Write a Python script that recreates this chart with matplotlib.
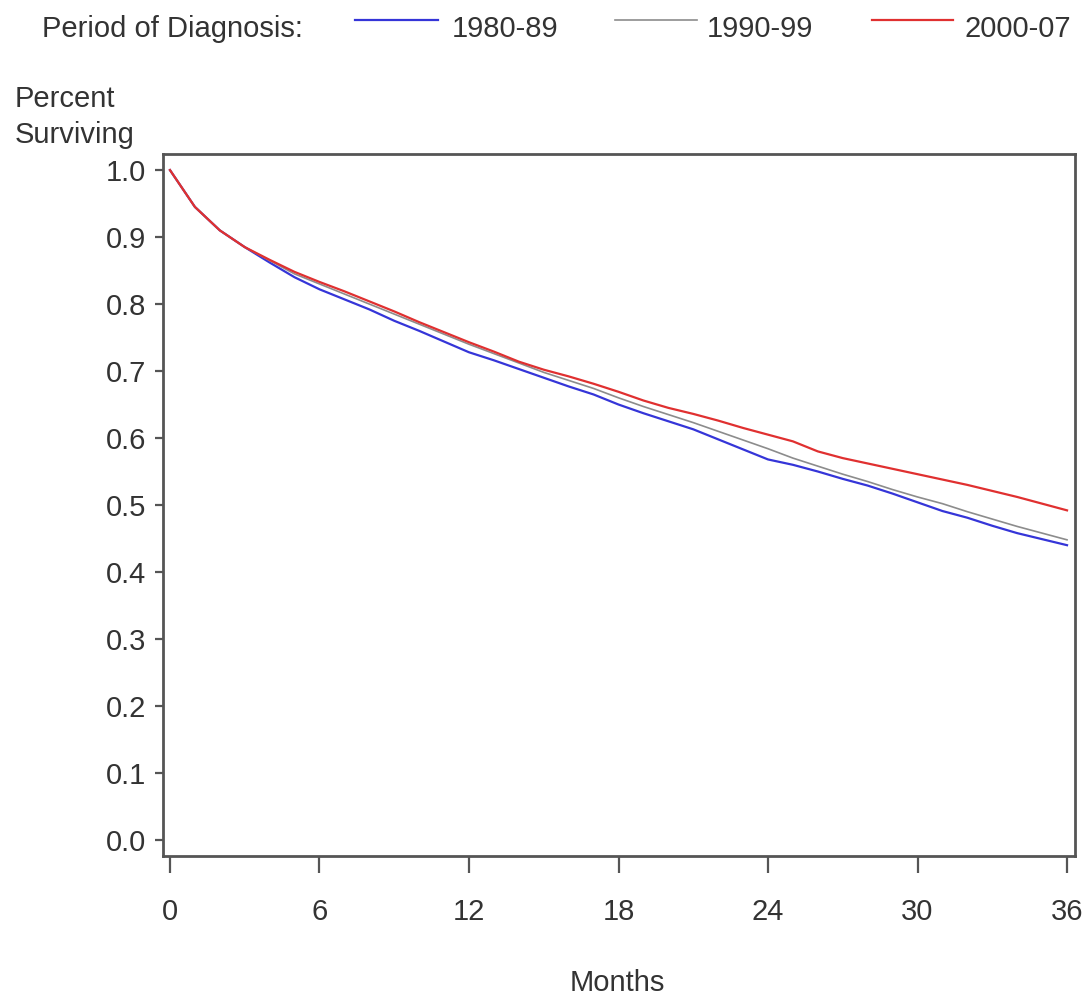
import matplotlib
matplotlib.use("Agg")
import matplotlib.pyplot as plt
from matplotlib.lines import Line2D

months = list(range(0, 37))

surv_1980_89 = [1.000, 0.945, 0.910, 0.885, 0.862, 0.840, 0.822, 0.807, 0.792, 0.775,
                0.760, 0.744, 0.728, 0.716, 0.703, 0.690, 0.677, 0.665, 0.650, 0.637,
                0.625, 0.613, 0.598, 0.583, 0.568, 0.560, 0.550, 0.539, 0.529, 0.517,
                0.504, 0.491, 0.481, 0.469, 0.458, 0.449, 0.440]
surv_1990_99 = [1.000, 0.945, 0.910, 0.885, 0.865, 0.845, 0.830, 0.815, 0.800, 0.785,
                0.770, 0.755, 0.740, 0.726, 0.712, 0.698, 0.686, 0.674, 0.660, 0.647,
                0.635, 0.623, 0.610, 0.597, 0.584, 0.570, 0.558, 0.546, 0.535, 0.523,
                0.512, 0.502, 0.490, 0.479, 0.468, 0.458, 0.448]
surv_2000_07 = [1.000, 0.945, 0.910, 0.885, 0.866, 0.848, 0.833, 0.819, 0.804, 0.789,
                0.773, 0.758, 0.743, 0.729, 0.714, 0.702, 0.692, 0.681, 0.669, 0.656,
                0.645, 0.636, 0.626, 0.615, 0.605, 0.595, 0.580, 0.570, 0.562, 0.554,
                0.546, 0.538, 0.530, 0.521, 0.512, 0.502, 0.492]

series_labels = ["1980-89", "1990-99", "2000-07"]
series_colors = ["#3535d8", "#8c8c8c", "#e03030"]
x_ticks = [0, 6, 12, 18, 24, 30, 36]
y_ticks = [0.0, 0.1, 0.2, 0.3, 0.4, 0.5, 0.6, 0.7, 0.8, 0.9, 1.0]

plt.rcParams['font.family'] = ['Liberation Sans', 'DejaVu Sans']
txt_color = "#333333"
spine_color = "#555555"
fs = 21

W, H = 1084, 997
fig = plt.figure(figsize=(W / 100, H / 100), dpi=100)
ax = fig.add_axes([163 / W, 1 - 856 / H, (1075 - 163) / W, (856 - 154) / H])

series = [surv_1980_89, surv_1990_99, surv_2000_07]
widths = [1.6, 1.2, 1.6]
for vals, col, lw in zip(series, series_colors, widths):
    ax.plot(months, vals, color=col, lw=lw)

ax.set_xlim(-0.28, 36.32)
ax.set_ylim(-0.024, 1.024)
ax.set_xticks(x_ticks)
ax.set_xticklabels([str(t) for t in x_ticks])
ax.set_yticks(y_ticks)
ax.set_yticklabels([f"{t:.1f}" for t in y_ticks])

for s in ax.spines.values():
    s.set_color(spine_color)
    s.set_linewidth(2.0)
ax.tick_params(axis='x', direction='out', length=12, width=1.6, color=spine_color,
               labelsize=fs, labelcolor=txt_color, pad=18)
ax.tick_params(axis='y', direction='out', length=6, width=1.6, color=spine_color,
               labelsize=fs, labelcolor=txt_color, pad=6)

# axis labels
fig.text(617 / W, 1 - 983 / H, "Months", ha='center', va='center',
         fontsize=fs, color=txt_color)
fig.text(15 / W, 1 - 85 / H, "Percent\nSurviving", ha='left', va='top',
         fontsize=fs, color=txt_color, linespacing=1.35)

# legend along top
fig.text(42 / W, 1 - 37 / H, "Period of Diagnosis:", ha='left', va='baseline',
         fontsize=fs, color=txt_color)
line_spans = [(355, 438), (615, 697), (872, 953)]
text_x = [452, 707, 965]
for (x0, x1), tx, lab, col, lw in zip(line_spans, text_x, series_labels, series_colors, widths):
    fig.add_artist(Line2D([x0 / W, x1 / W], [1 - 20 / H, 1 - 20 / H], color=col, lw=lw,
                          transform=fig.transFigure))
    fig.text(tx / W, 1 - 37 / H, lab, ha='left', va='baseline', fontsize=fs, color=txt_color)

fig.savefig("out.png", dpi=100)
